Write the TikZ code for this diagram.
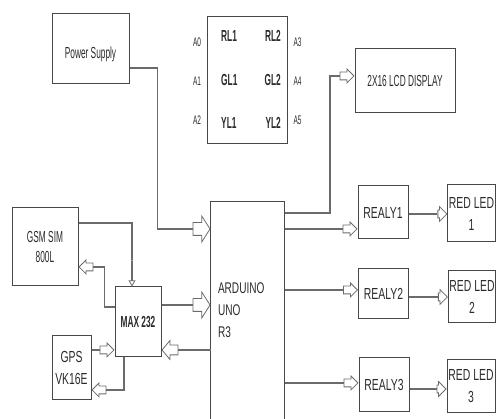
\documentclass[tikz,border=0pt]{standalone}
\usepackage{fontspec}
\setmainfont{Liberation Sans}[FakeStretch=0.52]
\newfontfamily\wideface{Liberation Sans}[FakeStretch=0.65]
\usepackage{xcolor}
\definecolor{edge}{HTML}{474747}
\definecolor{wire}{HTML}{6B6B6B}
\definecolor{ink}{HTML}{2B2B2B}
\usetikzlibrary{shapes.arrows,calc}
\tikzset{
  blk/.style      = {draw=edge,line width=1pt,inner sep=1pt,align=center,
                     text=ink,font=\fontsize{16}{20}\selectfont},
  blkw/.style     = {blk,font=\wideface\fontsize{16}{22}\selectfont},
  cell/.style     = {inner sep=0pt,text=ink,font=\bfseries\fontsize{16}{18}\selectfont},
  pinlbl/.style   = {inner sep=0pt,text=ink,font=\fontsize{12.5}{14}\selectfont},
  sig/.style      = {draw=wire,line width=1.1pt},
  harr/.style     = {single arrow,draw=wire,fill=white,line width=0.8pt,
                     inner xsep=0pt,minimum width=0pt,anchor=tip},
  bigarr/.style   = {harr,minimum height=17pt,inner ysep=6pt,
                     single arrow head extend=6.5pt,single arrow tip angle=115},
  midarr/.style   = {harr,minimum height=16pt,inner ysep=4.5pt,
                     single arrow head extend=4.5pt,single arrow tip angle=100},
  smallarr/.style = {harr,minimum height=14pt,inner ysep=3.5pt,
                     single arrow head extend=3pt},
  tinyarr/.style  = {harr,minimum height=9pt,inner ysep=3.5pt,
                     single arrow head extend=3.5pt},
  downarr/.style  = {harr,minimum height=25pt,inner ysep=2.5pt,
                     single arrow head extend=2.5pt,single arrow tip angle=60,
                     shape border rotate=270},
}

\begin{document}
\begin{tikzpicture}[x=1pt,y=-1pt]
  \useasboundingbox (0,0) rectangle (496,419);

  % blocks
  \node[blk,minimum width=77pt,minimum height=70pt,text height=22pt] (ps) at (90.5,49) {Power Supply};
  \node[blk,minimum width=80pt,minimum height=127pt] (tbl) at (247,80.5) {};
  \node[blk,minimum width=100pt,minimum height=64pt] (lcd) at (405,81) {2X16 LCD DISPLAY};
  \node[blkw,draw=none,minimum width=73pt,minimum height=217pt,text width=59pt,
        align=left,font=\wideface\fontsize{15.5}{22}\selectfont]
        (ard) at (247.5,310.5) {ARDUINO\\UNO\\ R3};
  \draw[edge,line width=1pt] (ard.south west) -- (ard.north west)
        -- (ard.north east) -- (ard.south east);
  \node[blk,minimum width=66pt,minimum height=78pt] (gsm) at (45,247) {GSM SIM\\800L};
  \node[blk,minimum width=46pt,minimum height=70pt,
        font=\bfseries\fontsize{16}{20}\selectfont] (max) at (138,322) {MAX 232};
  \node[blkw,minimum width=39pt,minimum height=64pt] (gps) at (71.5,368) {GPS\\VK16E};

  % relays and leds
  \node[blkw,minimum width=50pt,minimum height=53pt] (rly1) at (383,212.5) {REALY1};
  \node[blkw,minimum width=50pt,minimum height=50pt] (rly2) at (383.5,294) {REALY2};
  \node[blkw,minimum width=50pt,minimum height=54pt] (rly3) at (384,385) {REALY3};
  \node[blkw,minimum width=47pt,minimum height=57pt] (led1) at (471.5,213.5) {RED LED\\1};
  \node[blkw,minimum width=46pt,minimum height=52pt] (led2) at (472,297) {RED LED\\2};
  \node[blkw,minimum width=48pt,minimum height=53pt] (led3) at (471,386.5) {RED LED\\3};

  % signal table
  \foreach \c [count=\k from 0, evaluate=\k as \j using int(\k+3)] in {R,G,Y} {
    \node[cell,anchor=west] (\c L1) at (221,{36+43.5*\k}) {\c L1};
    \node[cell,anchor=east] (\c L2) at (281,{36+43.5*\k}) {\c L2};
    \node[pinlbl] (pa\k) at (197,{42+39*\k}) {A\k};
    \node[pinlbl] (pa\j) at (297.5,{42+39*\k}) {A\j};
  }

  % arrow heads
  \node[bigarr] (aps) at (ard.west |- 0,229) {};
  \node[bigarr] (amx) at (ard.west |- 0,305) {};
  \node[midarr,shape border rotate=180] (aam) at (max.east |- 0,350) {};
  \node[downarr] (agm) at (132,0 |- max.north) {};
  \node[smallarr,shape border rotate=180] (amg) at (gsm.east |- 0,267) {};
  \node[smallarr] (apm) at (max.west |- 0,350) {};
  \node[smallarr,shape border rotate=180] (amp) at (gps.east |- 0,390) {};
  \node[smallarr] (alcd) at (lcd.west |- 0,76) {};
  \node[smallarr] (ar1) at (rly1.west |- 0,229) {};
  \node[smallarr] (ar2) at (rly2.west |- 0,290) {};
  \node[smallarr] (ar3) at (rly3.west |- 0,383) {};
  \node[tinyarr] (al1) at (led1.west |- 0,214) {};
  \node[tinyarr] (al2) at (led2.west |- 0,297) {};
  \node[tinyarr] (al3) at (led3.west |- 0,389) {};

  % wiring
  \draw[sig] (ps.east |- 0,68) -- ++(28,0) |- (aps.tail);
  \draw[sig] (max.east |- 0,305) -- (amx.tail);
  \draw[sig] (ard.west |- 0,350) -- (aam.tail);
  \draw[sig] (gsm.east |- 0,223) -| (agm.tail);
  \draw[sig] (max.west |- 0,307) -- ++(-10,0) |- (amg.tail);
  \draw[sig] (gps.east |- 0,350) -- (apm.tail);
  \draw[sig] (124,0 |- max.south) |- (amp.tail);
  \draw[sig] (ard.east |- 0,213) -| (330,76) -- (alcd.tail);
  \draw[sig] (ard.east |- 0,229) -- (ar1.tail);
  \draw[sig] (ard.east |- 0,290) -- (ar2.tail);
  \draw[sig] (ard.east |- 0,383) -- (ar3.tail);
  \draw[sig] (rly1.east |- 0,214) -- (al1.tail);
  \draw[sig] (rly2.east |- 0,297) -- (al2.tail);
  \draw[sig] (rly3.east |- 0,389) -- (al3.tail);
\end{tikzpicture}
\end{document}
